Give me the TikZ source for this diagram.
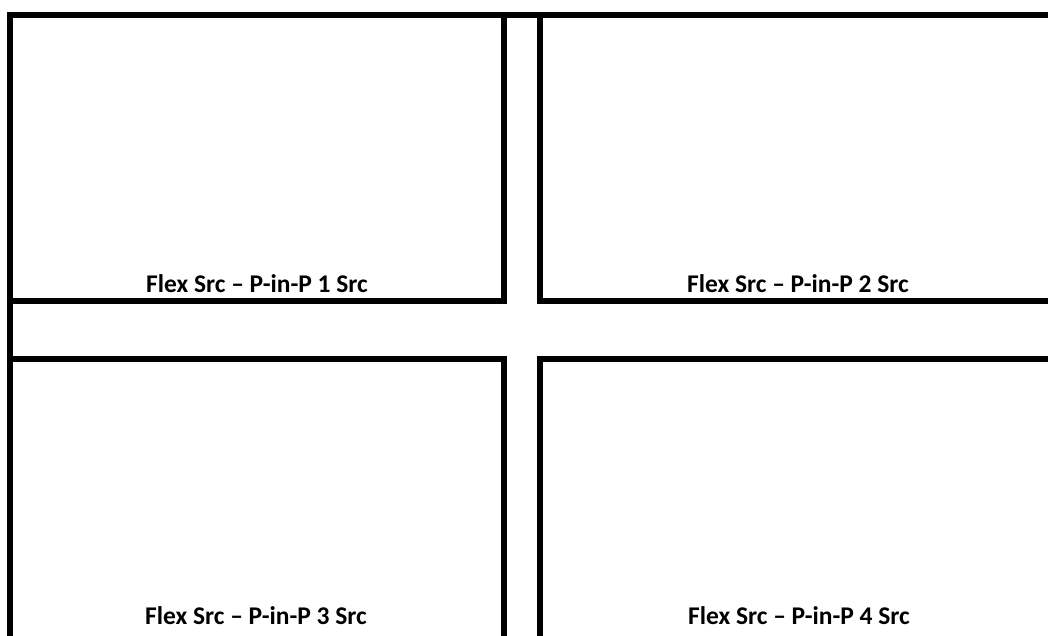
\documentclass[tikz,border=0pt]{standalone}
\usepackage{fontspec}
\setmainfont{Carlito}
\tikzset{
  pipbox/.style={draw=black, line width=6pt, miter limit=10},
  piplabel/.style={font=\bfseries\fontsize{25.5}{30}\selectfont, anchor=base, inner sep=0pt}
}

\begin{document}
\begin{tikzpicture}[x=1pt, y=-1pt]
\useasboundingbox[fill=white] (0,0) rectangle (1048,635);

% Outer frame lines (top and left run through)
\draw[pipbox] (1070,15) -- (10,15) -- (10,660);

% Top row
\draw[pipbox] (10,15) rectangle (504,301);
\draw[pipbox] (540,15) rectangle (1070,301);

% Bottom row
\draw[pipbox] (10,359) rectangle (504,660);
\draw[pipbox] (540,359) rectangle (1070,660);

% Labels
\node[piplabel] (src1) at (257,292) {Flex Src – P-in-P 1 Src};
\node[piplabel] (src2) at (798,292) {Flex Src – P-in-P 2 Src};
\node[piplabel] (src3) at (256,624) {Flex Src – P-in-P 3 Src};
\node[piplabel] (src4) at (799,624) {Flex Src – P-in-P 4 Src};

\end{tikzpicture}
\end{document}
